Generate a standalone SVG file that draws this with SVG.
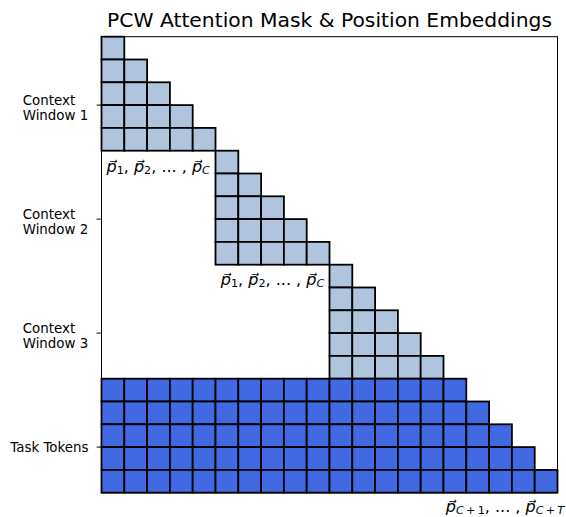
<svg xmlns="http://www.w3.org/2000/svg" xmlns:xlink="http://www.w3.org/1999/xlink" width="566" height="517" viewBox="0 0 566 517">
<style>
.l{fill:#b0c4de;stroke:#000;stroke-width:1.8}
.d{fill:#4169e1;stroke:#000;stroke-width:1.8}
text{font-family:"DejaVu Sans","Liberation Sans",sans-serif;fill:#000}
.t{font-size:13.4px}
.m{font-size:16px}
.i{font-style:italic}
.s{font-size:11.2px}
.tick{stroke:#000;stroke-width:1}
</style>
<defs>
<rect id="L" class="l" width="22.8" height="22.8"/>
<rect id="D" class="d" width="22.8" height="22.8"/>
</defs>
<rect x="0" y="0" width="566" height="517" fill="#fff"/>
<text x="329.5" y="26.7" text-anchor="middle" style="font-size:20.3px">PCW Attention Mask &amp; Position Embeddings</text>
<rect x="101.5" y="36.7" width="456" height="456" fill="#fff" stroke="#000" stroke-width="1"/>
<g id="context-window-1">
<use href="#L" x="101.5" y="36.7"/>
<use href="#L" x="101.5" y="59.5"/><use href="#L" x="124.3" y="59.5"/>
<use href="#L" x="101.5" y="82.3"/><use href="#L" x="124.3" y="82.3"/><use href="#L" x="147.1" y="82.3"/>
<use href="#L" x="101.5" y="105.1"/><use href="#L" x="124.3" y="105.1"/><use href="#L" x="147.1" y="105.1"/><use href="#L" x="169.9" y="105.1"/>
<use href="#L" x="101.5" y="127.9"/><use href="#L" x="124.3" y="127.9"/><use href="#L" x="147.1" y="127.9"/><use href="#L" x="169.9" y="127.9"/><use href="#L" x="192.7" y="127.9"/>
</g>
<g id="context-window-2">
<use href="#L" x="215.5" y="150.7"/>
<use href="#L" x="215.5" y="173.5"/><use href="#L" x="238.3" y="173.5"/>
<use href="#L" x="215.5" y="196.3"/><use href="#L" x="238.3" y="196.3"/><use href="#L" x="261.1" y="196.3"/>
<use href="#L" x="215.5" y="219.1"/><use href="#L" x="238.3" y="219.1"/><use href="#L" x="261.1" y="219.1"/><use href="#L" x="283.9" y="219.1"/>
<use href="#L" x="215.5" y="241.9"/><use href="#L" x="238.3" y="241.9"/><use href="#L" x="261.1" y="241.9"/><use href="#L" x="283.9" y="241.9"/><use href="#L" x="306.7" y="241.9"/>
</g>
<g id="context-window-3">
<use href="#L" x="329.5" y="264.7"/>
<use href="#L" x="329.5" y="287.5"/><use href="#L" x="352.3" y="287.5"/>
<use href="#L" x="329.5" y="310.3"/><use href="#L" x="352.3" y="310.3"/><use href="#L" x="375.1" y="310.3"/>
<use href="#L" x="329.5" y="333.1"/><use href="#L" x="352.3" y="333.1"/><use href="#L" x="375.1" y="333.1"/><use href="#L" x="397.9" y="333.1"/>
<use href="#L" x="329.5" y="355.9"/><use href="#L" x="352.3" y="355.9"/><use href="#L" x="375.1" y="355.9"/><use href="#L" x="397.9" y="355.9"/><use href="#L" x="420.7" y="355.9"/>
</g>
<g id="task-tokens">
<use href="#D" x="101.5" y="378.7"/><use href="#D" x="124.3" y="378.7"/><use href="#D" x="147.1" y="378.7"/><use href="#D" x="169.9" y="378.7"/><use href="#D" x="192.7" y="378.7"/><use href="#D" x="215.5" y="378.7"/><use href="#D" x="238.3" y="378.7"/><use href="#D" x="261.1" y="378.7"/><use href="#D" x="283.9" y="378.7"/><use href="#D" x="306.7" y="378.7"/><use href="#D" x="329.5" y="378.7"/><use href="#D" x="352.3" y="378.7"/><use href="#D" x="375.1" y="378.7"/><use href="#D" x="397.9" y="378.7"/><use href="#D" x="420.7" y="378.7"/><use href="#D" x="443.5" y="378.7"/>
<use href="#D" x="101.5" y="401.5"/><use href="#D" x="124.3" y="401.5"/><use href="#D" x="147.1" y="401.5"/><use href="#D" x="169.9" y="401.5"/><use href="#D" x="192.7" y="401.5"/><use href="#D" x="215.5" y="401.5"/><use href="#D" x="238.3" y="401.5"/><use href="#D" x="261.1" y="401.5"/><use href="#D" x="283.9" y="401.5"/><use href="#D" x="306.7" y="401.5"/><use href="#D" x="329.5" y="401.5"/><use href="#D" x="352.3" y="401.5"/><use href="#D" x="375.1" y="401.5"/><use href="#D" x="397.9" y="401.5"/><use href="#D" x="420.7" y="401.5"/><use href="#D" x="443.5" y="401.5"/><use href="#D" x="466.3" y="401.5"/>
<use href="#D" x="101.5" y="424.3"/><use href="#D" x="124.3" y="424.3"/><use href="#D" x="147.1" y="424.3"/><use href="#D" x="169.9" y="424.3"/><use href="#D" x="192.7" y="424.3"/><use href="#D" x="215.5" y="424.3"/><use href="#D" x="238.3" y="424.3"/><use href="#D" x="261.1" y="424.3"/><use href="#D" x="283.9" y="424.3"/><use href="#D" x="306.7" y="424.3"/><use href="#D" x="329.5" y="424.3"/><use href="#D" x="352.3" y="424.3"/><use href="#D" x="375.1" y="424.3"/><use href="#D" x="397.9" y="424.3"/><use href="#D" x="420.7" y="424.3"/><use href="#D" x="443.5" y="424.3"/><use href="#D" x="466.3" y="424.3"/><use href="#D" x="489.1" y="424.3"/>
<use href="#D" x="101.5" y="447.1"/><use href="#D" x="124.3" y="447.1"/><use href="#D" x="147.1" y="447.1"/><use href="#D" x="169.9" y="447.1"/><use href="#D" x="192.7" y="447.1"/><use href="#D" x="215.5" y="447.1"/><use href="#D" x="238.3" y="447.1"/><use href="#D" x="261.1" y="447.1"/><use href="#D" x="283.9" y="447.1"/><use href="#D" x="306.7" y="447.1"/><use href="#D" x="329.5" y="447.1"/><use href="#D" x="352.3" y="447.1"/><use href="#D" x="375.1" y="447.1"/><use href="#D" x="397.9" y="447.1"/><use href="#D" x="420.7" y="447.1"/><use href="#D" x="443.5" y="447.1"/><use href="#D" x="466.3" y="447.1"/><use href="#D" x="489.1" y="447.1"/><use href="#D" x="511.9" y="447.1"/>
<use href="#D" x="101.5" y="469.9"/><use href="#D" x="124.3" y="469.9"/><use href="#D" x="147.1" y="469.9"/><use href="#D" x="169.9" y="469.9"/><use href="#D" x="192.7" y="469.9"/><use href="#D" x="215.5" y="469.9"/><use href="#D" x="238.3" y="469.9"/><use href="#D" x="261.1" y="469.9"/><use href="#D" x="283.9" y="469.9"/><use href="#D" x="306.7" y="469.9"/><use href="#D" x="329.5" y="469.9"/><use href="#D" x="352.3" y="469.9"/><use href="#D" x="375.1" y="469.9"/><use href="#D" x="397.9" y="469.9"/><use href="#D" x="420.7" y="469.9"/><use href="#D" x="443.5" y="469.9"/><use href="#D" x="466.3" y="469.9"/><use href="#D" x="489.1" y="469.9"/><use href="#D" x="511.9" y="469.9"/><use href="#D" x="534.7" y="469.9"/>
</g>
<g id="axis-ticks">
<line class="tick" x1="96.6" y1="105.1" x2="101.5" y2="105.1"/>
<line class="tick" x1="96.6" y1="219.1" x2="101.5" y2="219.1"/>
<line class="tick" x1="96.6" y1="333.1" x2="101.5" y2="333.1"/>
<line class="tick" x1="96.6" y1="447.1" x2="101.5" y2="447.1"/>
</g>
<g id="labels">
<text class="t" x="22.7" y="104.6">Context</text>
<text class="t" x="22.7" y="119.5">Window 1</text>
<text class="t" x="22.7" y="218.6">Context</text>
<text class="t" x="22.7" y="233.5">Window 2</text>
<text class="t" x="22.7" y="332.6">Context</text>
<text class="t" x="22.7" y="347.5">Window 3</text>
<text class="t" x="88.5" y="452.3" text-anchor="end">Task Tokens</text>
<text class="m" x="158.2" y="171.6" text-anchor="middle"><tspan class="i">p&#x20D7;</tspan><tspan class="s" dy="2">1</tspan><tspan dy="-2">, </tspan><tspan class="i">p&#x20D7;</tspan><tspan class="s" dy="2">2</tspan><tspan dy="-2">, ... , </tspan><tspan class="i">p&#x20D7;</tspan><tspan class="s i" dy="2">C</tspan></text>
<text class="m" x="272.5" y="285.4" text-anchor="middle"><tspan class="i">p&#x20D7;</tspan><tspan class="s" dy="2">1</tspan><tspan dy="-2">, </tspan><tspan class="i">p&#x20D7;</tspan><tspan class="s" dy="2">2</tspan><tspan dy="-2">, ... , </tspan><tspan class="i">p&#x20D7;</tspan><tspan class="s i" dy="2">C</tspan></text>
<text class="m" x="505" y="511.7" text-anchor="middle"><tspan class="i">p&#x20D7;</tspan><tspan class="s" dy="2"><tspan class="i">C</tspan>&#x2009;+&#x2009;1</tspan><tspan dy="-2">, ... , </tspan><tspan class="i">p&#x20D7;</tspan><tspan class="s" dy="2"><tspan class="i">C</tspan>&#x2009;+&#x2009;<tspan class="i">T</tspan></tspan></text>
</g>
</svg>
